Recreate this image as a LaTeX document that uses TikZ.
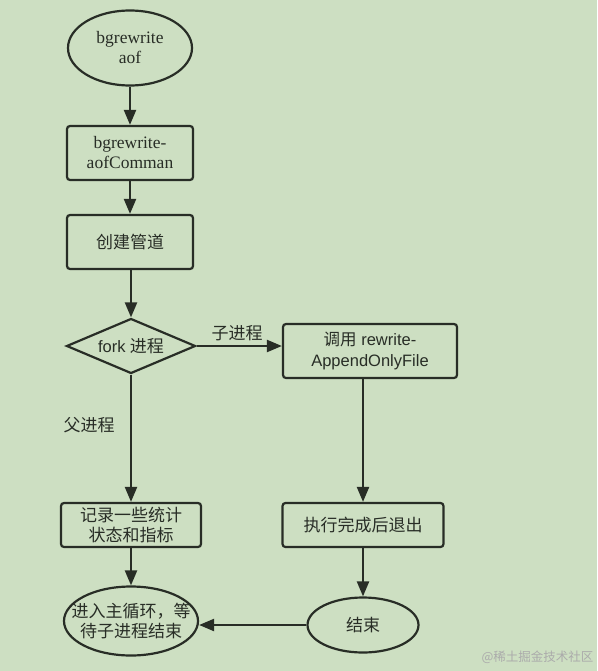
\documentclass[tikz,border=0pt]{standalone}
\usepackage{fontspec}
\setmainfont{Liberation Serif}
\newfontfamily\sansf{Liberation Sans}
\newfontfamily\cjk{Noto Sans CJK SC}
\usetikzlibrary{shapes.geometric,arrows.meta}
\definecolor{bg}{RGB}{205,223,194}
\definecolor{ln}{RGB}{40,45,38}
\begin{document}
\begin{tikzpicture}[x=1pt,y=-1pt,
  every node/.style={font=\fontsize{17.5}{20}\selectfont, text=ln, align=center},
  cj/.style={font=\cjk\fontsize{17}{20.5}\selectfont},
  boxst/.style={draw=ln, line width=2.2pt, rounded corners=3pt, inner sep=0pt},
  ellst/.style={draw=ln, line width=2.2pt, ellipse, inner sep=0pt},
  diast/.style={draw=ln, line width=2.2pt, diamond, inner sep=0pt},
  arr/.style={draw=ln, line width=2.2pt, -{Triangle[length=15pt,width=12pt]}},
]
\fill[bg] (0,0) rectangle (597,671);
\useasboundingbox (0,0) rectangle (597,671);

\node[ellst, minimum width=124pt, minimum height=75pt] (start) at (130,48) {bgrewrite\\aof};
\node[boxst, minimum width=126pt, minimum height=54pt] (cmd) at (130,153) {bgrewrite-\\aofComman};
\node[boxst, cj, minimum width=126pt, minimum height=54pt] (pipe) at (130,242) {创建管道};
\node[diast, minimum width=129pt, minimum height=55pt, aspect=2.35] (fork) at (131,346) {};
\node at (fork.center) {{\sansf\fontsize{16.5}{20}\selectfont fork} {\cjk\fontsize{17}{20}\selectfont 进程}};
\node[boxst, minimum width=174pt, minimum height=54pt, font=\sansf\fontsize{16.5}{21}\selectfont] (call) at (370,351) {{\cjk 调用} rewrite-\\AppendOnlyFile};
\node[boxst, cj, minimum width=140pt, minimum height=44pt] (rec) at (131,525) {记录一些统计\\状态和指标};
\node[boxst, cj, minimum width=161pt, minimum height=44pt] (exec) at (363,525) {执行完成后退出};
\node[ellst, cj, minimum width=134pt, minimum height=69pt, inner xsep=-14pt, inner ysep=0pt] (loop) at (131,621) {进入主循环，等\\待子进程结束};
\node[ellst, cj, minimum width=111pt, minimum height=55pt] (end) at (363,625) {结束};

\node[cj] (lchild) at (237,333) {子进程};
\node[cj] (lparent) at (89,425) {父进程};

\coordinate (callout) at (363,378);

\draw[arr] (start) -- (cmd);
\draw[arr] (cmd) -- (pipe.north -| cmd.south);
\draw[arr] (pipe.south -| fork.north) -- (fork.north);
\draw[arr] (fork.east) -- (call.west |- fork.east);
\draw[arr] (fork.south) -- (rec.north);
\draw[arr] (callout) -- (exec.north);
\draw[arr] (rec) -- (loop);
\draw[arr] (exec) -- (end);
\draw[arr] (end.west) -- (loop.east |- end.west);

\node[font=\cjk\fontsize{12.5}{14}\selectfont, text=black!33, anchor=east] (wm) at (597,657) {@稀土掘金技术社区};
\end{tikzpicture}
\end{document}
